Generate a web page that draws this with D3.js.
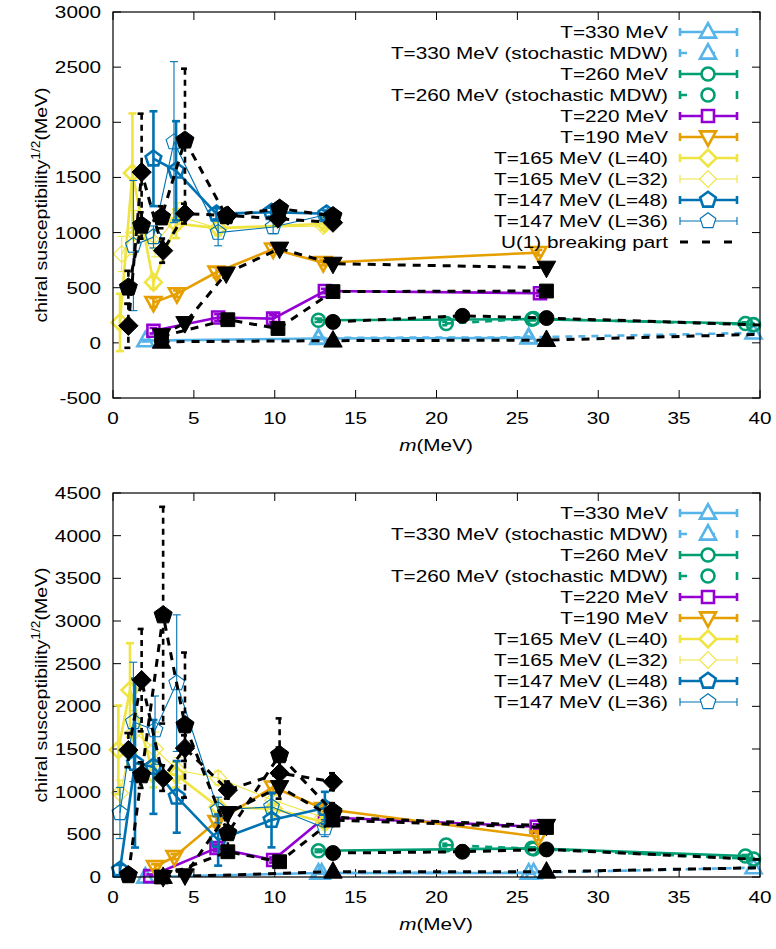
<!DOCTYPE html>
<html>
<head>
<meta charset="utf-8">
<script src="https://cdn.jsdelivr.net/npm/d3@7"></script>
<style>
  body { margin: 0; background: #fff; }
  text { font-family: "Liberation Sans", Arial, Helvetica, sans-serif; fill: #000; }
</style>
</head>
<body>
<svg id="chart" width="776" height="949"></svg>
<script>
// ---- top panel data (m in MeV, value in MeV) ----
const top330m = [2.0, 12.7, 25.7], top330y = [20, 40, 45], top330e = [8, 8, 8];
const top330sm = [12.7, 25.7, 39.6], top330sy = [45, 50, 90], top330se = [8, 8, 8];
const top260m = [12.7, 25.9, 39.1], top260y = [205, 215, 175], top260e = [15, 12, 12];
const top260sm = [20.6, 26.0, 39.6], top260sy = [175, 220, 165], top260se = [15, 12, 12];
const top220m = [2.5, 6.5, 9.9, 13.1, 26.4], top220y = [110, 230, 220, 470, 450], top220e = [25, 30, 30, 20, 25];
const top190m = [2.5, 3.95, 6.4, 9.9, 13.0, 26.3], top190y = [365, 445, 640, 850, 727, 818], top190e = [40, 30, 45, 35, 25, 25];
const top165Am = [0.43, 1.2, 2.5, 3.9, 6.5, 13.1], top165Ay = [185, 1540, 550, 1080, 1040, 1080], top165Ae = [260, 540, 60, 130, 60, 40];
const top165Bm = [0.54, 1.3, 2.6, 4.0, 6.5, 13.0], top165By = [806, 1000, 900, 1150, 1040, 1060], top165Be = [160, 200, 120, 120, 70, 40];
const top147Am = [2.5, 3.9, 6.4, 9.8, 13.2], top147Ay = [1670, 1560, 1170, 1185, 1170], top147Ae = [430, 450, 50, 40, 30];
const top147Bm = [1.26, 2.5, 3.77, 6.5, 9.9, 13.1], top147By = [882, 960, 1820, 1000, 1050, 1160], top147Be = [590, 100, 730, 120, 60, 40];
// U(1) breaking part, top panel
const topU330m = [3.0, 13.6, 26.8, 40.5], topU330y = [10, 20, 25, 80], topU330e = [5, 5, 5, 5];
const topU260m = [13.6, 21.6, 26.8, 40.5], topU260y = [190, 245, 225, 160], topU260e = [10, 10, 10, 10];
const topU220m = [3.0, 7.1, 10.2, 13.6, 26.8], topU220y = [60, 210, 130, 465, 470], topU220e = [20, 25, 30, 15, 15];
const topU190m = [3.0, 4.45, 7.0, 10.3, 13.6, 26.8], topU190y = [70, 180, 630, 855, 718, 682], topU190e = [30, 30, 40, 30, 20, 20];
const topU165m = [0.95, 1.77, 3.1, 4.45, 7.1, 10.2, 13.6], topU165y = [155, 1548, 836, 1172, 1154, 1127, 1090], topU165e = [200, 530, 110, 90, 60, 40, 30];
const topU147m = [0.95, 1.77, 3.0, 4.45, 7.0, 10.3, 13.6], topU147y = [503, 1064, 1139, 1836, 1150, 1218, 1150], topU147e = [150, 120, 100, 650, 60, 40, 30];

// ---- bottom panel data ----
const bot330m = [2.0, 12.7, 25.7], bot330y = [0, 47, 47], bot330e = [8, 8, 8];
const bot330sm = [12.9, 26.0, 39.6], bot330sy = [47, 50, 109], bot330se = [8, 8, 8];
const bot260m = [12.7, 25.9, 39.1], bot260y = [307, 336, 246], bot260e = [15, 12, 12];
const bot260sm = [20.6, 26.0, 39.6], bot260sy = [375, 330, 211], bot260se = [15, 12, 12];
const bot220m = [2.3, 6.4, 9.9, 13.1, 26.2], bot220y = [10, 340, 199, 700, 589], bot220e = [20, 40, 30, 30, 30];
const bot190m = [2.6, 3.8, 6.4, 9.9, 13.0, 26.3], bot190y = [120, 238, 650, 1054, 800, 472], bot190e = [30, 30, 60, 60, 40, 40];
const bot165Am = [0.33, 1.05, 2.5, 3.9, 6.5, 9.9, 13.1], bot165Ay = [1490, 2190, 1200, 1200, 820, 800, 640], bot165Ae = [520, 550, 150, 150, 80, 60, 50];
const bot165Bm = [0.43, 1.3, 2.6, 4.0, 6.5, 9.9, 13.0], bot165By = [984, 1700, 1500, 1250, 1160, 900, 700], bot165Be = [150, 250, 200, 150, 80, 60, 50];
const bot147Am = [0.43, 1.36, 2.5, 3.94, 6.5, 9.8, 13.1], bot147Ay = [82, 1335, 1290, 939, 433, 667, 808], bot147Ae = [60, 990, 550, 420, 300, 320, 190];
const bot147Bm = [0.43, 1.26, 2.6, 3.94, 6.5, 9.8, 13.1], bot147By = [750, 1817, 1721, 2272, 785, 822, 573], bot147Be = [300, 700, 400, 800, 150, 150, 100];
// U(1) breaking part, bottom panel
const botU330m = [3.1, 13.6, 26.8, 40.5], botU330y = [0, 62, 62, 110], botU330e = [5, 5, 5, 5];
const botU260m = [13.6, 21.6, 26.8, 40.5], botU260y = [281, 296, 323, 200], botU260e = [10, 10, 10, 10];
const botU220m = [3.0, 7.1, 10.3, 13.6, 26.8], botU220y = [0, 296, 179, 667, 580], botU220e = [20, 30, 30, 30, 30];
const botU190m = [3.1, 4.45, 7.1, 10.3, 13.6, 26.8], botU190y = [0, 20, 750, 1054, 700, 600], botU190e = [20, 20, 60, 60, 40, 40];
const botU165m = [0.95, 1.77, 3.1, 4.45, 7.1, 10.3, 13.6], botU165y = [1487, 2307, 1159, 1510, 1019, 1218, 1116], botU165e = [200, 600, 150, 150, 100, 300, 100];
const botU147m = [0.95, 1.77, 3.1, 4.45, 7.1, 10.3, 13.6], botU147y = [23, 1194, 3068, 1780, 515, 1429, 765], botU147e = [30, 150, 1270, 850, 150, 430, 100];

// ---- axis ticks ----
const xTicks = [0, 5, 10, 15, 20, 25, 30, 35, 40];
const topYTicks = [-500, 0, 500, 1000, 1500, 2000, 2500, 3000];
const botYTicks = [0, 500, 1000, 1500, 2000, 2500, 3000, 3500, 4000, 4500];

// ---- legend labels ----
const legendLabels = [
  "T=330 MeV", "T=330 MeV (stochastic MDW)", "T=260 MeV", "T=260 MeV (stochastic MDW)",
  "T=220 MeV", "T=190 MeV", "T=165 MeV (L=40)", "T=165 MeV (L=32)",
  "T=147 MeV (L=48)", "T=147 MeV (L=36)", "U(1) breaking part"
];

// styles for each legend entry: colour, symbol, line width, dashed
const styles = [
  { c: "#56b4e9", s: "tri", w: 2.6, d: false },
  { c: "#56b4e9", s: "tri", w: 2.6, d: true },
  { c: "#009e73", s: "circ", w: 2.6, d: false },
  { c: "#009e73", s: "circ", w: 2.6, d: true },
  { c: "#9400d3", s: "sq", w: 2.6, d: false },
  { c: "#e69f00", s: "itri", w: 2.6, d: false },
  { c: "#f0e442", s: "dia", w: 2.6, d: false },
  { c: "#f0e442", s: "dia", w: 1.1, d: false },
  { c: "#0072b2", s: "pent", w: 2.6, d: false },
  { c: "#0072b2", s: "pent", w: 1.1, d: false }
];

const svg = d3.select("#chart");
const xScale = d3.scaleLinear().domain([0, 40]).range([113, 760]);

const sx = 1.22; // horizontal text stretch of the original
const label = (g, x, y, txt, anchor) =>
  g.append("text")
    .attr("transform", `translate(${x},${y}) scale(${sx},1)`)
    .attr("text-anchor", anchor)
    .attr("font-size", 17)
    .text(txt);

const shape = (s, r) => {
  if (s === "circ") return d3.symbol(d3.symbolCircle, Math.PI * r * r)();
  if (s === "sq") return `M${-r},${-r}H${r}V${r}H${-r}Z`;
  if (s === "tri") return `M0,${-r * 1.1}L${r},${r * 0.7}L${-r},${r * 0.7}Z`;
  if (s === "itri") return `M0,${r * 1.1}L${r},${-r * 0.7}L${-r},${-r * 0.7}Z`;
  if (s === "dia") return `M0,${-r * 1.2}L${r * 1.2},0L0,${r * 1.2}L${-r * 1.2},0Z`;
  // pentagon
  const p = d3.range(5).map(i => {
    const a = -Math.PI / 2 + i * 2 * Math.PI / 5;
    return [r * 1.1 * Math.cos(a), r * 1.1 * Math.sin(a)];
  });
  return "M" + p.map(q => q.join(",")).join("L") + "Z";
};

const symSize = { circ: 6.5, sq: 6, tri: 8, itri: 8, dia: 7, pent: 7.5 };

const drawSeries = (g, yScale, m, v, e, st, black) => {
  const pts = m.map((d, i) => ({ m: d, v: v[i], e: e[i] }));
  const col = black ? "#000" : st.c;
  const lw = black ? 3 : st.w;
  const dash = black ? "8,7" : (st.d ? "7,6" : null);
  const lineG = g.append("g").attr("clip-path", `url(#${g.attr("data-clip")})`);
  lineG.append("path")
    .datum(pts)
    .attr("fill", "none")
    .attr("stroke", col)
    .attr("stroke-width", lw)
    .attr("stroke-dasharray", dash)
    .attr("d", d3.line().x(d => xScale(d.m)).y(d => yScale(d.v)));
  const vis = pts.filter(d => d.m <= 40);
  // error bars
  const eb = lineG.append("g")
    .attr("stroke", col)
    .attr("stroke-width", black ? 2.6 : (st.w > 2 ? 2.6 : 1.1))
    .attr("stroke-dasharray", black ? "6,5" : (st.d ? "5,5" : null));
  vis.forEach(d => {
    const xx = xScale(d.m), y1 = yScale(d.v + d.e), y2 = yScale(d.v - d.e);
    eb.append("line").attr("x1", xx).attr("x2", xx).attr("y1", y1).attr("y2", y2);
    eb.append("line").attr("x1", xx - 4).attr("x2", xx + 4).attr("y1", y1).attr("y2", y1).attr("stroke-dasharray", null);
    eb.append("line").attr("x1", xx - 4).attr("x2", xx + 4).attr("y1", y2).attr("y2", y2).attr("stroke-dasharray", null);
  });
  const r = symSize[st.s] * (black ? 1.15 : 1);
  g.append("g").selectAll("path")
    .data(vis)
    .join("path")
    .attr("transform", d => `translate(${xScale(d.m)},${yScale(d.v)})`)
    .attr("d", shape(st.s, r))
    .attr("fill", black ? "#000" : "#fff")
    .attr("fill-opacity", black ? 1 : 0)
    .attr("stroke", col)
    .attr("stroke-width", black ? 1 : (st.w > 2 ? 2.6 : 1.1));
};

const drawPanel = (id, top, bottom, yTicks, colored, black, nLegend) => {
  const yScale = d3.scaleLinear().domain([yTicks[0], yTicks[yTicks.length - 1]]).range([bottom, top]);
  const g = svg.append("g").attr("data-clip", id);
  g.append("clipPath").attr("id", id)
    .append("rect").attr("x", 113).attr("y", top).attr("width", 647).attr("height", bottom - top);

  // ticks (inward, mirrored)
  const tk = g.append("g").attr("stroke", "#000").attr("stroke-width", 1);
  xTicks.forEach(t => {
    const xx = xScale(t);
    tk.append("line").attr("x1", xx).attr("x2", xx).attr("y1", bottom).attr("y2", bottom - 8);
    tk.append("line").attr("x1", xx).attr("x2", xx).attr("y1", top).attr("y2", top + 8);
    label(g, xx, bottom + 26, String(t), "middle");
  });
  yTicks.forEach(t => {
    const yy = yScale(t);
    tk.append("line").attr("x1", 113).attr("x2", 121).attr("y1", yy).attr("y2", yy);
    tk.append("line").attr("x1", 760).attr("x2", 752).attr("y1", yy).attr("y2", yy);
    label(g, 101, yy + 6, String(t), "end");
  });

  // axis titles
  const xt = g.append("text")
    .attr("transform", `translate(436,${bottom + 53}) scale(${sx},1)`)
    .attr("text-anchor", "middle").attr("font-size", 17);
  xt.append("tspan").attr("font-style", "italic").text("m");
  xt.append("tspan").text("(MeV)");
  const yt = g.append("text")
    .attr("transform", `translate(47,${(top + bottom) / 2}) rotate(-90) scale(1.15,1)`)
    .attr("text-anchor", "middle").attr("font-size", 17);
  yt.append("tspan").text("chiral susceptibility");
  yt.append("tspan").attr("font-size", 12).attr("dy", -7).text("1/2");
  yt.append("tspan").attr("dy", 7).text("(MeV)");

  // data
  colored.forEach((s, i) => drawSeries(g, yScale, s[0], s[1], s[2], styles[i], false));
  black.forEach(s => drawSeries(g, yScale, s[0], s[1], s[2], styles[s[3]], true));

  // legend
  const lg = g.append("g");
  for (let i = 0; i < nLegend; i++) {
    const yy = top + 20 + i * 21;
    label(lg, 668, yy + 6, legendLabels[i], "end");
    if (i === 10) {
      lg.append("line").attr("x1", 680).attr("x2", 737).attr("y1", yy).attr("y2", yy)
        .attr("stroke", "#000").attr("stroke-width", 3).attr("stroke-dasharray", "8,14");
      continue;
    }
    const st = styles[i];
    const lw = st.w;
    lg.append("line").attr("x1", 680).attr("x2", 737).attr("y1", yy).attr("y2", yy)
      .attr("stroke", st.c).attr("stroke-width", lw).attr("stroke-dasharray", st.d ? "7,21" : null);
    [680, 737].forEach(xx => lg.append("line").attr("x1", xx).attr("x2", xx)
      .attr("y1", yy - 4).attr("y2", yy + 4).attr("stroke", st.c).attr("stroke-width", lw));
    lg.append("path").attr("transform", `translate(708,${yy})`)
      .attr("d", shape(st.s, symSize[st.s]))
      .attr("fill", "#fff").attr("stroke", st.c).attr("stroke-width", lw);
  }

  // frame
  g.append("rect").attr("x", 113).attr("y", top).attr("width", 647).attr("height", bottom - top)
    .attr("fill", "none").attr("stroke", "#000").attr("stroke-width", 1.2);
};

drawPanel("clipTop", 12, 398, topYTicks,
  [[top330m, top330y, top330e], [top330sm, top330sy, top330se], [top260m, top260y, top260e],
   [top260sm, top260sy, top260se], [top220m, top220y, top220e], [top190m, top190y, top190e],
   [top165Am, top165Ay, top165Ae], [top165Bm, top165By, top165Be], [top147Am, top147Ay, top147Ae],
   [top147Bm, top147By, top147Be]],
  [[topU330m, topU330y, topU330e, 0], [topU260m, topU260y, topU260e, 2], [topU220m, topU220y, topU220e, 4],
   [topU190m, topU190y, topU190e, 5], [topU165m, topU165y, topU165e, 6], [topU147m, topU147y, topU147e, 8]],
  11);

drawPanel("clipBot", 493, 877, botYTicks,
  [[bot330m, bot330y, bot330e], [bot330sm, bot330sy, bot330se], [bot260m, bot260y, bot260e],
   [bot260sm, bot260sy, bot260se], [bot220m, bot220y, bot220e], [bot190m, bot190y, bot190e],
   [bot165Am, bot165Ay, bot165Ae], [bot165Bm, bot165By, bot165Be], [bot147Am, bot147Ay, bot147Ae],
   [bot147Bm, bot147By, bot147Be]],
  [[botU330m, botU330y, botU330e, 0], [botU260m, botU260y, botU260e, 2], [botU220m, botU220y, botU220e, 4],
   [botU190m, botU190y, botU190e, 5], [botU165m, botU165y, botU165e, 6], [botU147m, botU147y, botU147e, 8]],
  10);
</script>
</body>
</html>
